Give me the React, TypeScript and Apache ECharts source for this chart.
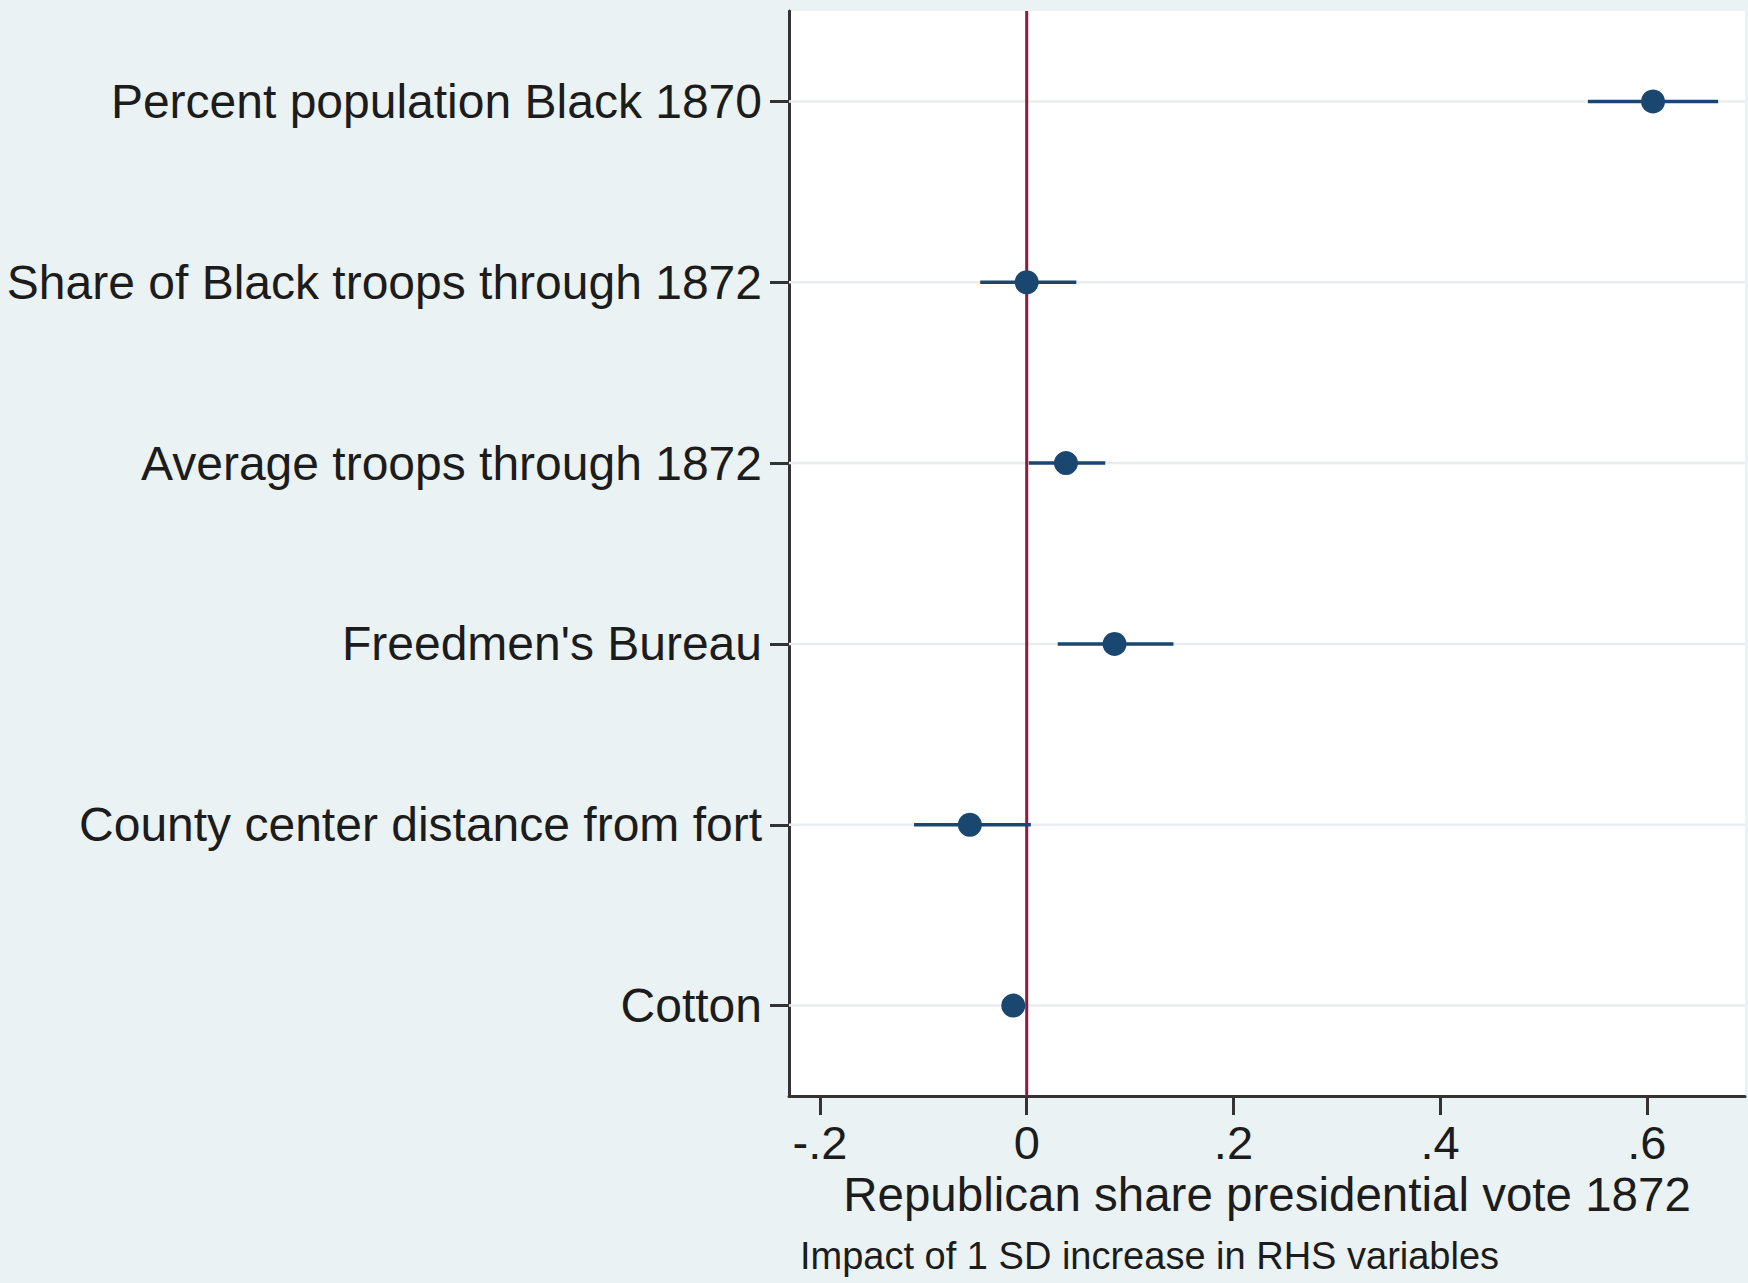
import { useEffect, useRef } from 'react';
import * as echarts from 'echarts';

const categories = [
  'Percent population Black 1870',
  'Share of Black troops through 1872',
  'Average troops through 1872',
  "Freedmen's Bureau",
  'County center distance from fort',
  'Cotton',
];
const estimates = [0.606, 0.0, 0.038, 0.085, -0.055, -0.013];
const lowerCI = [0.543, -0.045, 0.002, 0.03, -0.109, -0.022];
const upperCI = [0.669, 0.048, 0.076, 0.142, 0.004, -0.004];
const referenceLineX = 0;
const xTickValues = [-0.2, 0, 0.2, 0.4, 0.6];
const xTickLabels = ['-.2', '0', '.2', '.4', '.6'];
const xAxisTitle = 'Republican share presidential vote 1872';
const noteText = 'Impact of 1 SD increase in RHS variables';

const FONT = '"Liberation Sans", Arial, Helvetica, sans-serif';
const NAVY = '#1a476f';

export default function App() {
  const ref = useRef<HTMLDivElement>(null);
  useEffect(() => {
    document.body.style.margin = '0';
    const chart = echarts.init(ref.current!, null, { renderer: 'svg' });
    chart.setOption({
      animation: false,
      backgroundColor: '#eaf2f3',
      textStyle: { fontFamily: FONT },
      grid: {
        left: 789,
        right: 3,
        top: 11,
        bottom: 187,
        show: true,
        backgroundColor: '#ffffff',
        borderWidth: 0,
        containLabel: false,
      },
      xAxis: {
        type: 'value',
        min: -0.23,
        max: 0.695,
        axisLine: { show: true, onZero: false, lineStyle: { color: '#333333', width: 3 } },
        axisTick: {
          show: true,
          length: 19,
          customValues: xTickValues,
          lineStyle: { color: '#333333', width: 3 },
        },
        axisLabel: {
          show: true,
          customValues: xTickValues,
          fontSize: 47,
          color: '#1c1c1c',
          margin: 23,
          fontFamily: FONT,
          formatter: (v: number) => {
            const i = xTickValues.findIndex((t) => Math.abs(t - v) < 1e-9);
            return i >= 0 ? xTickLabels[i] : '';
          },
        },
        splitLine: { show: false },
        name: xAxisTitle,
        nameLocation: 'middle',
        nameGap: 73,
        nameTextStyle: { fontSize: 47.5, color: '#1c1c1c', fontFamily: FONT },
      },
      yAxis: {
        type: 'category',
        data: categories,
        inverse: true,
        axisLine: { show: true, onZero: false, lineStyle: { color: '#333333', width: 3 } },
        axisTick: {
          show: true,
          alignWithLabel: true,
          length: 19,
          lineStyle: { color: '#333333', width: 3 },
        },
        axisLabel: { fontSize: 48, color: '#1c1c1c', margin: 27, fontFamily: FONT },
        splitLine: { show: false },
      },
      graphic: [
        {
          type: 'text',
          left: 800,
          top: 1237,
          style: { text: noteText, fontSize: 38, fill: '#1c1c1c', fontFamily: FONT },
        },
      ],
      series: [
        {
          type: 'custom',
          name: 'gridlines',
          z: 1,
          silent: true,
          data: categories.map((_, i) => [0, i]),
          encode: { x: 0, y: 1 },
          renderItem: (params: any, api: any) => {
            const y = api.coord([0, api.value(1)])[1];
            const cs = params.coordSys;
            return {
              type: 'line',
              shape: { x1: cs.x, y1: y, x2: cs.x + cs.width, y2: y },
              style: { stroke: '#e8eeef', lineWidth: 2.5 },
            };
          },
        },
        {
          type: 'custom',
          name: 'refline',
          z: 2,
          silent: true,
          data: [[referenceLineX, 0]],
          encode: { x: 0, y: 1 },
          renderItem: (params: any, api: any) => {
            const x = api.coord([api.value(0), 0])[0];
            const cs = params.coordSys;
            return {
              type: 'line',
              shape: { x1: x, y1: cs.y, x2: x, y2: cs.y + cs.height },
              style: { stroke: '#8b1c3f', lineWidth: 3 },
            };
          },
        },
        {
          type: 'custom',
          name: 'ci',
          z: 3,
          silent: true,
          data: categories.map((_, i) => [lowerCI[i], i, upperCI[i]]),
          encode: { x: 0, y: 1 },
          renderItem: (params: any, api: any) => {
            const p1 = api.coord([api.value(0), api.value(1)]);
            const p2 = api.coord([api.value(2), api.value(1)]);
            return {
              type: 'line',
              shape: { x1: p1[0], y1: p1[1], x2: p2[0], y2: p2[1] },
              style: { stroke: NAVY, lineWidth: 3.5 },
            };
          },
        },
        {
          type: 'scatter',
          name: 'estimate',
          z: 4,
          symbol: 'circle',
          symbolSize: 24,
          itemStyle: { color: NAVY, opacity: 1 },
          data: categories.map((_, i) => [estimates[i], i]),
        },
      ],
    });
    return () => chart.dispose();
  }, []);
  return (
    <div
      ref={ref}
      style={{ position: 'fixed', left: 0, top: 0, width: 1748, height: 1283 }}
    />
  );
}
